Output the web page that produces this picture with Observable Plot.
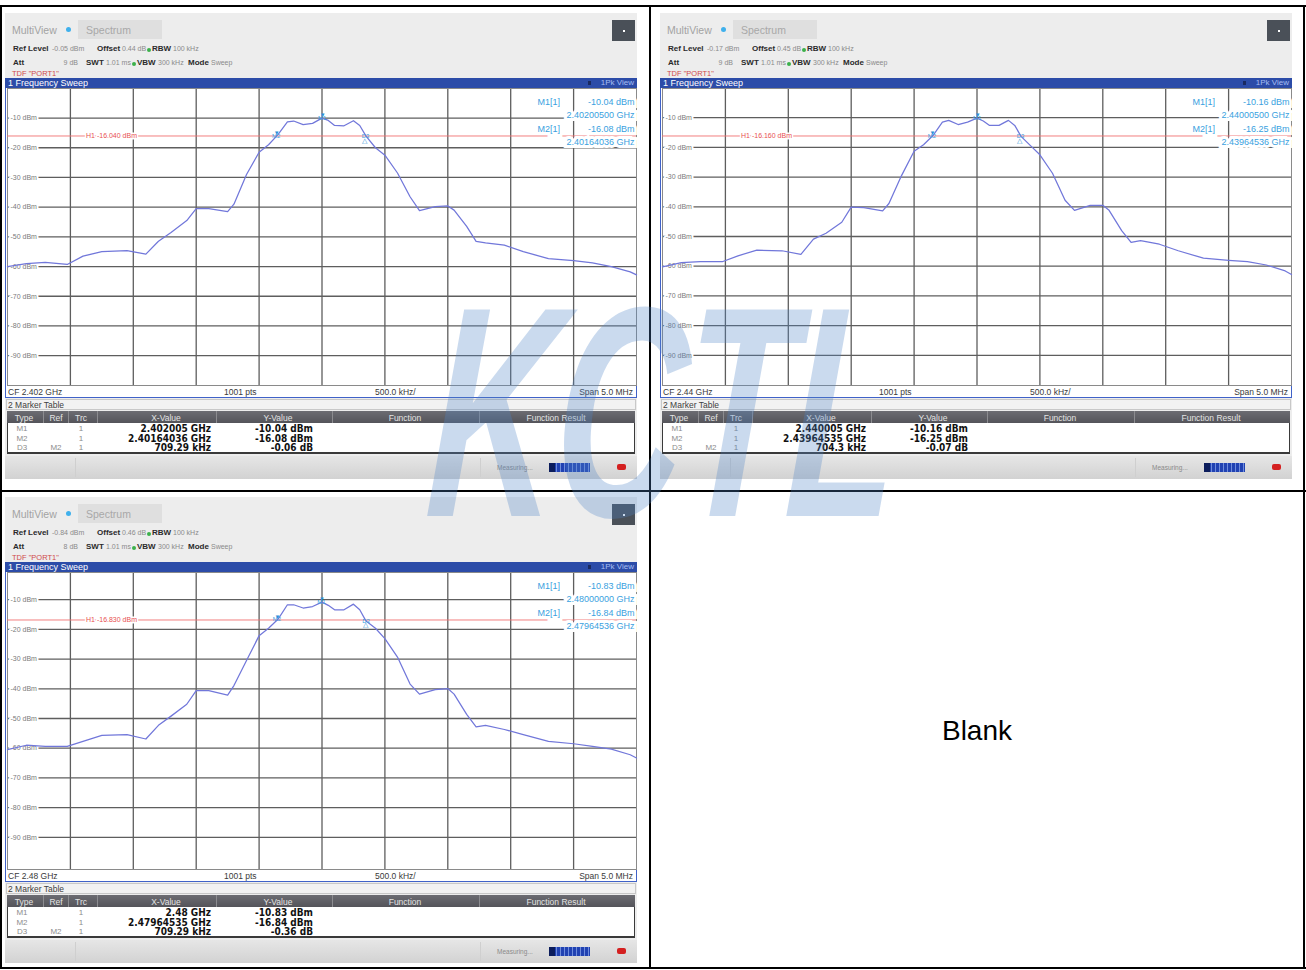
<!DOCTYPE html>
<html><head><meta charset="utf-8">
<script src="https://cdn.jsdelivr.net/npm/d3@7"></script>
<script src="https://cdn.jsdelivr.net/npm/@observablehq/plot@0.6"></script>
<style>
html,body{margin:0;padding:0;background:#fff;}
body{width:1306px;height:970px;position:relative;overflow:hidden;font-family:"Liberation Sans",Arial,sans-serif;}
.abs{position:absolute;white-space:nowrap;box-sizing:border-box;}
.panel{position:absolute;width:650px;height:490px;}
.bk{position:absolute;background:#000;}
</style></head><body>
<script>
// ---- data ----
const offsetsMHz = [-2.5, -2.35, -2.2, -2.025, -1.9, -1.75, -1.55, -1.4, -1.3, -1.2, -1.075, -1.0, -0.9, -0.75, -0.7, -0.6, -0.5, -0.425, -0.35, -0.275, -0.225, -0.15, -0.075, 0, 0.05, 0.1, 0.175, 0.25, 0.3, 0.35, 0.425, 0.5, 0.6, 0.7, 0.775, 0.9, 1.0, 1.05, 1.15, 1.225, 1.3, 1.45, 1.6, 1.8, 2.0, 2.15, 2.3, 2.45, 2.5];
const trace2402 = [-60.0, -59.0, -58.6, -59.3, -56.5, -55.0, -54.6, -55.8, -51.5, -48.5, -44.5, -40.5, -40.5, -41.5, -39.0, -29.0, -21.5, -19.0, -15.6, -11.3, -11.0, -12.2, -11.8, -10.04, -10.8, -12.5, -12.6, -10.9, -12.5, -16.1, -20.0, -22.5, -28.5, -36.5, -41.2, -39.8, -39.6, -41.0, -46.5, -51.5, -52.0, -52.8, -55.0, -57.3, -58.0, -58.8, -60.0, -61.8, -62.8];
const trace2440 = [-60.2, -58.8, -58.5, -58.5, -56.5, -54.6, -54.8, -56.0, -50.9, -48.9, -45.2, -40.1, -40.3, -41.4, -38.9, -29.5, -21.3, -19.1, -16.0, -11.5, -10.9, -12.3, -11.5, -10.16, -11.1, -12.6, -12.6, -10.9, -12.6, -16.3, -19.4, -22.5, -28.7, -37.8, -41.2, -39.5, -39.5, -41.2, -48.0, -52.0, -51.4, -52.6, -54.8, -57.3, -58.0, -58.5, -59.6, -61.6, -62.8];
const trace2480 = [-60.5, -59.0, -59.4, -59.4, -57.7, -55.7, -55.4, -56.9, -52.3, -49.2, -45.2, -40.6, -40.6, -42.1, -38.9, -30.5, -22.1, -19.6, -16.6, -11.7, -11.7, -12.8, -12.3, -10.83, -11.9, -13.4, -13.4, -11.5, -13.4, -17.2, -19.6, -23.1, -29.3, -38.4, -41.8, -40.3, -39.9, -41.8, -48.6, -52.8, -52.3, -53.7, -55.4, -57.7, -58.5, -59.4, -60.3, -62.2, -63.3];
const yTicks = [-10, -20, -30, -40, -50, -60, -70, -80, -90];
const xGridMHz = [-2, -1.5, -1, -0.5, 0, 0.5, 1, 1.5, 2];

const refLevels = [-0.05, -0.17, -0.84];
const refLevelText = ["-0.05 dBm", "-0.17 dBm", "-0.84 dBm"];
const offsetText = ["0.44 dB", "0.45 dB", "0.46 dB"];
const attText = ["9 dB", "9 dB", "8 dB"];
const cfText = ["CF 2.402 GHz", "CF 2.44 GHz", "CF 2.48 GHz"];
const h1Levels = [-16.04, -16.16, -16.83];
const m1Offset = [0.005, 0.005, 0];
const m1Level = [-10.04, -10.16, -10.83];
const m1FreqText = ["2.40200500 GHz", "2.44000500 GHz", "2.48000000 GHz"];
const m2Offset = [-0.35964, -0.35464, -0.35465];
const m2Level = [-16.08, -16.25, -16.84];
const m2FreqText = ["2.40164036 GHz", "2.43964536 GHz", "2.47964536 GHz"];
const d3Offset = [0.34965, 0.34966, 0.35464];
const d3Level = [-16.14, -16.32, -17.20];
const tableTypes = ["M1", "M2", "D3"];
const tableRefs = ["", "", "M2"];
const tableX = [["2.402005 GHz", "2.40164036 GHz", "709.29 kHz"], ["2.440005 GHz", "2.43964535 GHz", "704.3 kHz"], ["2.48 GHz", "2.47964535 GHz", "709.29 kHz"]];
const tableY = [["-10.04 dBm", "-16.08 dBm", "-0.06 dB"], ["-10.16 dBm", "-16.25 dBm", "-0.07 dB"], ["-10.83 dBm", "-16.84 dBm", "-0.36 dB"]];
const tableHeads = ["Type", "Ref", "Trc", "X-Value", "Y-Value", "Function", "Function Result"];
const traces = [trace2402, trace2440, trace2480];

// ---- helpers ----
function box(parent, x, y, w, h, css) {
  const d = document.createElement("div");
  d.className = "abs";
  Object.assign(d.style, {left: x + "px", top: y + "px", width: w + "px", height: h + "px"}, css || {});
  parent.appendChild(d);
  return d;
}
function T(parent, str, x, yc, o) {
  o = o || {};
  const d = document.createElement("div");
  d.className = "abs";
  d.textContent = str;
  d.style.fontSize = (o.size || 8) + "px";
  d.style.lineHeight = "12px";
  d.style.top = (yc - 6) + "px";
  d.style.color = o.color || "#333";
  if (o.bold) d.style.fontWeight = "bold";
  if (o.family) d.style.fontFamily = o.family;
  if (o.anchor === "end") { d.style.right = (650 - x) + "px"; }
  else if (o.anchor === "middle") { d.style.left = x + "px"; d.style.transform = "translateX(-50%)"; }
  else d.style.left = x + "px";
  parent.appendChild(d);
  return d;
}

function makePlot(i) {
  const ref = refLevels[i];
  const h1 = h1Levels[i];
  const data = offsetsMHz.map((f, k) => ({f, v: traces[i][k]}));
  const markers = [
    {name: "M1", f: m1Offset[i], v: m1Level[i]},
    {name: "M2", f: m2Offset[i], v: m2Level[i]},
    {name: "D3", f: d3Offset[i], v: d3Level[i]}
  ];
  const mc = "#3a9fe0";
  const info = [
    {t: "M1[1]", dx: -99, dy: 10.5, a: "start"},
    {t: m1Level[i].toFixed(2) + " dBm", dx: -2, dy: 10.5, a: "end"},
    {t: m1FreqText[i], dx: -2, dy: 23.5, a: "end"},
    {t: "M2[1]", dx: -99, dy: 37, a: "start"},
    {t: m2Level[i].toFixed(2) + " dBm", dx: -2, dy: 37, a: "end"},
    {t: m2FreqText[i], dx: -2, dy: 50.5, a: "end"}
  ];
  return Plot.plot({
    width: 629, height: 297,
    marginTop: 0, marginBottom: 0, marginLeft: 0, marginRight: 0,
    x: {domain: [-2.5, 2.5], axis: null},
    y: {domain: [ref - 100, ref], axis: null},
    style: {background: "white", fontFamily: "'Liberation Sans', Arial, sans-serif", overflow: "visible"},
    marks: [
      Plot.ruleX(xGridMHz, {stroke: "#5e5e5e", strokeWidth: 1.3}),
      Plot.ruleY(yTicks, {stroke: "#5e5e5e", strokeWidth: 1.3}),
      Plot.frame({stroke: "#8a8a8a", strokeWidth: 1}),
      Plot.ruleY([h1], {stroke: "#f07070", strokeWidth: 0.9}),
      Plot.text(yTicks, {x: -2.5, y: d => d, dx: 3, text: d => `${d} dBm`, textAnchor: "start", fontSize: 7, fill: "#7a7a7a", stroke: "white", strokeWidth: 4, paintOrder: "stroke"}),
      Plot.text([h1], {x: -2.5, y: d => d, dx: 104, text: d => `H1 ${d.toFixed(3)} dBm`, textAnchor: "middle", fontSize: 7, fill: "#e85050", stroke: "white", strokeWidth: 3, paintOrder: "stroke"}),
      ...info.map(d => Plot.text([d], {frameAnchor: "top-right", dx: d.dx, dy: d.dy, text: "t", fontSize: 9, fill: mc, stroke: "white", strokeWidth: 6, strokeLinejoin: "miter", paintOrder: "stroke", textAnchor: d.a})),
      Plot.line(data, {x: "f", y: "v", stroke: "#7177da", strokeWidth: 1.25}),
      Plot.text(markers.filter(d => d.name !== "D3"), {x: "f", y: "v", text: () => "\u25BC", fontSize: 6, fill: "#2b8fd6", dy: -3}),
      Plot.text(markers.filter(d => d.name === "D3"), {x: "f", y: "v", text: () => "\u25B3", fontSize: 7, fill: "#2b8fd6", dy: 4, dx: -1}),
      Plot.text(markers, {x: "f", y: "v", text: "name", fontSize: 6, fill: mc, dy: d => d.name === "D3" ? -9 : -11, dx: d => d.name === "D3" ? 4 : (d.name === "M2" ? -2 : 0)})
    ]
  });
}

function buildPanel(i, ox, oy) {
  const p = document.createElement("div");
  p.className = "panel";
  p.style.left = ox + "px"; p.style.top = oy + "px";
  document.body.appendChild(p);
  box(p, 5, 13, 632, 466, {background: "#ededed"});
  // header
  T(p, "MultiView", 12, 30, {size: 10.5, color: "#a3a3a3"});
  box(p, 66, 27, 5, 5, {background: "#3fb0ec", borderRadius: "50%"});
  box(p, 78, 20, 84, 19, {background: "#dfdfdf"});
  T(p, "Spectrum", 86, 30, {size: 10.5, color: "#a8a8a8"});
  box(p, 612, 20, 23, 21, {background: "#4a5058"});
  box(p, 623, 30, 2, 2, {background: "#fff"});
  const lab = {size: 8, bold: true, color: "#2a2a2a"};
  const val = {size: 7, color: "#8a8a8a"};
  T(p, "Ref Level", 13, 49, lab); T(p, refLevelText[i], 52, 49, val);
  T(p, "Offset", 97, 49, lab); T(p, offsetText[i], 122, 49, val);
  box(p, 146.5, 47.5, 4, 4, {background: "#3cb04a", borderRadius: "50%"});
  T(p, "RBW", 152, 49, lab); T(p, "100 kHz", 173, 49, val);
  T(p, "Att", 13, 63, lab); T(p, attText[i], 78, 63, Object.assign({anchor: "end"}, val));
  T(p, "SWT", 86, 63, lab); T(p, "1.01 ms", 106, 63, val);
  box(p, 131.5, 61.5, 4, 4, {background: "#3cb04a", borderRadius: "50%"});
  T(p, "VBW", 137, 63, lab); T(p, "300 kHz", 158, 63, val);
  T(p, "Mode", 188, 63, lab); T(p, "Sweep", 211, 63, val);
  T(p, 'TDF "PORT1"', 12, 73.5, {size: 7.5, color: "#d04a4a"});
  // window
  box(p, 5, 78, 632, 320, {background: "#fff", border: "1px solid #4062c8"});
  box(p, 5, 78, 632, 10, {background: "#2c4ca8"});
  T(p, "1 Frequency Sweep", 8, 83, {size: 9, color: "#fff"});
  box(p, 588, 81, 3, 4, {background: "#1a2a60"});
  T(p, "1Pk View", 634, 83, {size: 8, color: "#a6bef2", anchor: "end"});
  const holder = box(p, 7, 88, 629, 297, {});
  holder.appendChild(makePlot(i));
  // CF strip
  const cf = {size: 8.5, color: "#3a3a3a"};
  T(p, cfText[i], 8, 391.5, cf);
  T(p, "1001 pts", 224, 391.5, cf);
  T(p, "500.0 kHz/", 375, 391.5, cf);
  T(p, "Span 5.0 MHz", 633, 391.5, Object.assign({anchor: "end"}, cf));
  // marker table
  box(p, 6, 399, 630, 11, {background: "#f2f2f2", border: "1px solid #c8c8c8"});
  T(p, "2 Marker Table", 8, 405, {size: 8.5, color: "#404040"});
  box(p, 7, 411, 628, 43, {background: "#fff", border: "1px solid #3a3a3a", borderBottomWidth: "2px"});
  box(p, 7, 411, 628, 12, {background: "linear-gradient(#6c6c72,#54545a)"});
  [43, 68, 97, 216, 332, 479].forEach(x => box(p, x, 411, 1, 12, {background: "#8c8c90"}));
  const headX = [24, 56, 81, 166, 278, 405, 556];
  tableHeads.forEach((h, k) => T(p, h, headX[k], 417.5, {size: 8.5, color: "#e4e4e4", anchor: "middle"}));
  const rowY = [429, 438.5, 448];
  rowY.forEach((y, r) => {
    T(p, tableTypes[r], 22, y, {size: 8, color: "#8c8c8c", anchor: "middle"});
    if (tableRefs[r]) T(p, tableRefs[r], 56, y, {size: 8, color: "#8c8c8c", anchor: "middle"});
    T(p, "1", 81, y, {size: 8, color: "#8c8c8c", anchor: "middle"});
    T(p, tableX[i][r], 211, y, {size: 10, bold: true, color: "#111", anchor: "end", family: "'DejaVu Sans Condensed','DejaVu Sans',sans-serif"});
    T(p, tableY[i][r], 313, y, {size: 10, bold: true, color: "#111", anchor: "end", family: "'DejaVu Sans Condensed','DejaVu Sans',sans-serif"});
  });
  // status bar
  box(p, 5, 456, 632, 23, {background: "linear-gradient(#e6e6e6,#d2d2d2)"});
  box(p, 75, 458, 1, 19, {background: "#cfcfcf"});
  box(p, 480, 458, 1, 19, {background: "#cfcfcf"});
  T(p, "Measuring...", 497, 467.5, {size: 6.5, color: "#8a8a8a"});
  box(p, 549, 462.5, 41, 9, {background: "repeating-linear-gradient(90deg,#2142b2 0 3px,#6f8cdc 3px 4px)"});
  box(p, 549, 462.5, 6, 9, {background: "#0c1d5c"});
  box(p, 617, 464, 9, 6, {background: "#d42020", borderRadius: "2px"});
}

buildPanel(0, 0, 0);
buildPanel(1, 655, 0);
buildPanel(2, 0, 484);

// outer table borders
const B = (x, y, w, h) => { const d = document.createElement("div"); d.className = "bk"; Object.assign(d.style, {left: x + "px", top: y + "px", width: w + "px", height: h + "px"}); document.body.appendChild(d); };
B(0, 5, 1306, 2); B(0, 490, 1306, 2); B(0, 967, 1306, 2);
B(0, 5, 2, 964); B(649, 5, 2, 964); B(1303, 5, 2, 964);

// blank cell
const bl = document.createElement("div");
bl.className = "abs";
Object.assign(bl.style, {left: "977px", top: "731px", transform: "translate(-50%,-50%)", fontSize: "28px", fontFamily: "'Liberation Sans',Arial,sans-serif", color: "#000"});
bl.textContent = "Blank";
document.body.appendChild(bl);

// watermark
const wm = document.createElement("div");
wm.className = "abs";
Object.assign(wm.style, {left: "440px", top: "262px", fontSize: "300px", lineHeight: "300px", fontWeight: "bold", fontStyle: "italic", fontFamily: "'Liberation Sans',Arial,sans-serif", color: "rgba(79,134,198,0.30)", transformOrigin: "0 0", transform: "scaleX(0.6) skewX(-6deg)", pointerEvents: "none", letterSpacing: "-6px", zIndex: 10});
wm.textContent = "KCTL";
document.body.appendChild(wm);
</script>
</body></html>
